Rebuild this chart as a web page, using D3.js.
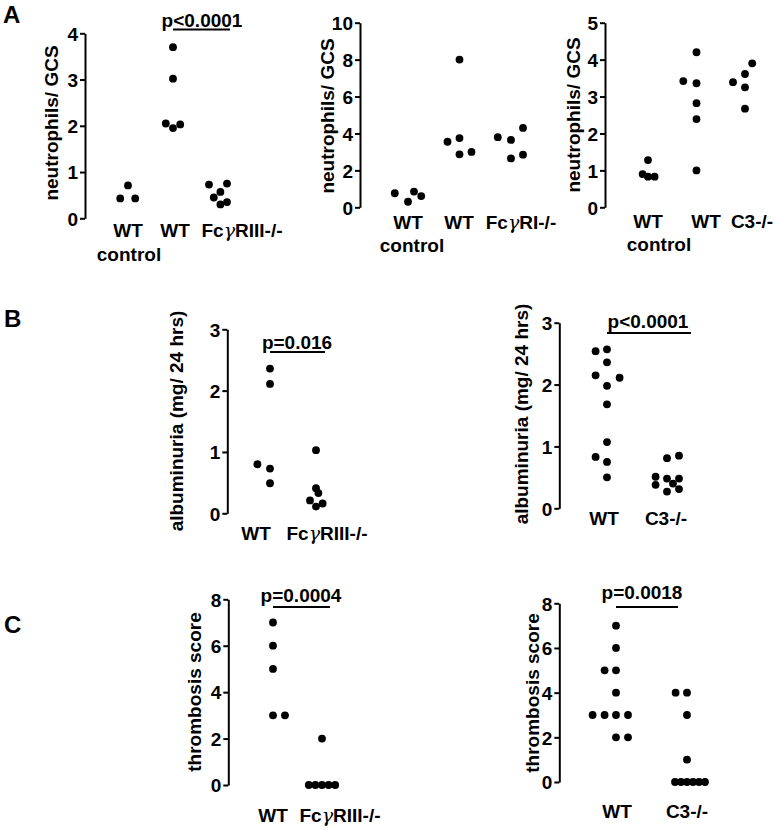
<!DOCTYPE html>
<html><head><meta charset="utf-8">
<script src="https://cdn.jsdelivr.net/npm/d3@7"></script>
<style>
body{margin:0;background:#fff}
svg{display:block}
text{font-family:"Liberation Sans",Arial,Helvetica,sans-serif;font-weight:bold;fill:#000}
</style>
</head><body>
<svg id="chart" width="779" height="830"></svg>
<script>
// ---------------- DATA ----------------
// Panel A1
const a1Categories = ["WT\ncontrol", "WT", "FcγRIII-/-"];
const a1Values = [[0.71, 0.43, 0.43], [3.70, 3.02, 2.05, 1.95, 2.03], [0.73, 0.75, 0.57, 0.45, 0.35, 0.30]];
const a1Spread = [[0, -1.3, 1.2], [0, 0, -1.2, 0, 1.2], [-1.5, 1.5, 0.4, -0.7, 1.5, 0.4]];
const a1Ticks = [0, 1, 2, 3, 4];
const a1Title = "neutrophils/ GCS";
const a1P = "p<0.0001";
// Panel A2
const a2Categories = ["WT\ncontrol", "WT", "FcγRI-/-"];
const a2Values = [[0.76, 0.30, 0.85, 0.61], [3.55, 3.75, 8.0, 2.87, 3.0], [3.8, 3.65, 2.65, 4.3, 2.85]];
const a2Spread = [[-2.2, 0, 1, 2.2], [-2, 0, 0, 0, 2], [-2.2, 0, 0, 2, 2]];
const a2Ticks = [0, 2, 4, 6, 8, 10];
const a2Title = "neutrophils/ GCS";
// Panel A3
const a3Categories = ["WT\ncontrol", "WT", "C3-/-"];
const a3Values = [[0.90, 1.28, 0.83, 0.83], [3.42, 4.2, 3.36, 2.82, 2.39, 1.0], [3.39, 3.61, 3.25, 2.67, 3.9]];
const a3Spread = [[-0.9, 0, 0, 1.1], [-2.2, 0, 0, 0, 0, 0], [-2, 0, 0, 0, 1.2]];
const a3Ticks = [0, 1, 2, 3, 4, 5];
const a3Title = "neutrophils/ GCS";
// Panel B1
const b1Categories = ["WT", "FcγRIII-/-"];
const b1Values = [[2.36, 2.11, 0.80, 0.73, 0.49], [1.03, 0.41, 0.33, 0.21, 0.11, 0.16]];
const b1Spread = [[0, 0, -2.1, 0, 0], [0, 0, 0.4, -1, 0, 1.1]];
const b1Ticks = [0, 1, 2, 3];
const b1Title = "albuminuria (mg/ 24 hrs)";
const b1P = "p=0.016";
// Panel B2
const b2Categories = ["WT", "C3-/-"];
const b2Values = [[2.54, 2.57, 2.36, 2.15, 2.11, 1.98, 1.68, 1.07, 0.83, 0.75, 0.50], [0.81, 0.85, 0.51, 0.38, 0.48, 0.40, 0.48, 0.27, 0.31]];
const b2Spread = [[-1.9, 0, 0, -1.9, 2.1, 0, 0, 0, -1.9, 0, 0], [0, 2, -1.9, -1.9, 0, 1, 2, 0, 2]];
const b2Ticks = [0, 1, 2, 3];
const b2Title = "albuminuria (mg/ 24 hrs)";
const b2P = "p<0.0001";
// Panel C1
const c1Categories = ["WT", "FcγRIII-/-"];
const c1Values = [[7, 6, 5, 3, 3], [2, 0, 0, 0, 0, 0]];
const c1Spread = [[0, 0, 0, 0, 2], [0, -2.2, -1.1, 0, 1.1, 2.2]];
const c1Ticks = [0, 2, 4, 6, 8];
const c1Title = "thrombosis score";
const c1P = "p=0.0004";
// Panel C2
const c2Categories = ["WT", "C3-/-"];
const c2Values = [[7, 6, 5, 5, 4, 3, 3, 3, 3, 2, 2], [4, 4, 3, 1, 0, 0, 0, 0, 0, 0]];
const c2Spread = [[0, 0, -1.9, 0, 0, -3.9, -1.9, 0, 2, 0, 2], [-1.9, 0, 0, 0, -2, -1, 0, 1, 2, 3]];
const c2Ticks = [0, 2, 4, 6, 8];
const c2Title = "thrombosis score";
const c2P = "p=0.0018";

const panelLetters = ["A", "B", "C"];

// ---------------- LAYOUT ----------------
const FONT = 19;
const panels = [
  {cats: a1Categories, vals: a1Values, spread: a1Spread, ticks: a1Ticks, title: a1Title,
   axisX: 85, y0: 218.3, y1: 33.3, xRange: [128, 218], labelX: [128, 175, 242], labelY: 237, line2X: 129, line2Y: 261,
   titleX: 58, titleY: 123, p: a1P, pX: 202, pY: 27, lineX2: 230, lineY: 29.5},
  {cats: a2Categories, vals: a2Values, spread: a2Spread, ticks: a2Ticks, title: a2Title,
   axisX: 360, y0: 207.3, y1: 22.7, xRange: [408, 511], labelX: [408, 459, 521], labelY: 229, line2X: 412, line2Y: 252,
   titleX: 334, titleY: 116},
  {cats: a3Categories, vals: a3Values, spread: a3Spread, ticks: a3Ticks, title: a3Title,
   axisX: 605, y0: 207.3, y1: 22.7, xRange: [648, 745], labelX: [648, 706, 752], labelY: 228, line2X: 659, line2Y: 251,
   titleX: 580, titleY: 115},
  {cats: b1Categories, vals: b1Values, spread: b1Spread, ticks: b1Ticks, title: b1Title,
   axisX: 227.3, y0: 513.3, y1: 329.3, xRange: [270, 316], labelX: [256, 327], labelY: 540,
   titleX: 183, titleY: 421, p: b1P, pX: 297, pY: 349, lineX2: 325, lineY: 352},
  {cats: b2Categories, vals: b2Values, spread: b2Spread, ticks: b2Ticks, title: b2Title,
   axisX: 559.3, y0: 508.3, y1: 322.7, xRange: [607, 667], labelX: [604, 666], labelY: 525,
   titleX: 528, titleY: 414, p: b2P, pX: 648, pY: 328, lineX2: 691, lineY: 333},
  {cats: c1Categories, vals: c1Values, spread: c1Spread, ticks: c1Ticks, title: c1Title,
   axisX: 228.3, y0: 785, y1: 599.3, xRange: [273, 322], labelX: [273, 340], labelY: 822,
   titleX: 201, titleY: 692, p: c1P, pX: 301, pY: 602, lineX2: 330, lineY: 607},
  {cats: c2Categories, vals: c2Values, spread: c2Spread, ticks: c2Ticks, title: c2Title,
   axisX: 559.3, y0: 782, y1: 603.3, xRange: [616, 687], labelX: [617, 687], labelY: 818,
   titleX: 539, titleY: 693, p: c2P, pX: 642, pY: 599, lineX2: 678, lineY: 607}
];
const letterPos = [[3, 23], [4, 327], [4, 633]];

const svg = d3.select("#chart");
svg.append("rect").attr("width", 779).attr("height", 830).attr("fill", "#fff");

panelLetters.forEach((L, i) => {
  svg.append("text").attr("x", letterPos[i][0]).attr("y", letterPos[i][1])
    .attr("font-size", 24).text(L);
});

const spreadScale = d3.scaleLinear().domain([0, 1]).range([0, 6]);

// writes a label, rendering the greek gamma in a symbol-like face
function writeLabel(sel, str) {
  const parts = str.split("γ");
  parts.forEach((part, k) => {
    if (k > 0) {
      sel.append("tspan").attr("font-family", "'DejaVu Serif', serif").attr("font-weight", "normal")
        .attr("font-style", "italic").text("γ");
    }
    if (part.length) sel.append("tspan").text(part);
  });
}

panels.forEach(p => {
  const g = svg.append("g");
  const max = d3.max(p.ticks);
  const y = d3.scaleLinear().domain([0, max]).range([p.y0, p.y1]);
  const x = d3.scalePoint().domain(p.cats).range(p.xRange);
  const lx = d3.scaleOrdinal().domain(p.cats).range(p.labelX);

  const ax = g.append("g").attr("transform", `translate(${p.axisX},0)`)
    .call(d3.axisLeft(y).tickValues(p.ticks).tickSize(5).tickSizeOuter(0).tickPadding(2).tickFormat(d3.format("d")));
  ax.attr("font-family", null).attr("font-size", null);
  ax.select(".domain").attr("stroke", "#000").attr("stroke-width", 2);
  ax.selectAll(".tick line").attr("stroke", "#000").attr("stroke-width", 2);
  ax.selectAll(".tick text").attr("font-size", FONT).attr("fill", "#000").attr("dy", "0.36em");

  // dots
  p.cats.forEach((c, i) => {
    g.selectAll(null).data(p.vals[i]).enter().append("circle")
      .attr("cx", (d, j) => x(c) + spreadScale(p.spread[i][j]))
      .attr("cy", d => y(d))
      .attr("r", 3.9)
      .attr("fill", "#000");
  });

  // category labels
  p.cats.forEach((c, i) => {
    const lines = c.split("\n");
    const t = g.append("text").attr("x", lx(c)).attr("y", p.labelY).attr("text-anchor", "middle")
      .attr("font-size", FONT);
    writeLabel(t, lines[0]);
    if (lines.length > 1) {
      g.append("text").attr("x", p.line2X).attr("y", p.line2Y).attr("text-anchor", "middle")
        .attr("font-size", FONT).text(lines[1]);
    }
  });

  // y title
  g.append("text").attr("transform", `translate(${p.titleX},${p.titleY}) rotate(-90)`)
    .attr("text-anchor", "middle").attr("font-size", FONT).text(p.title);

  // p-value annotation
  if (p.p) {
    g.append("text").attr("x", p.pX).attr("y", p.pY).attr("text-anchor", "middle")
      .attr("font-size", FONT).text(p.p);
    g.append("line").attr("x1", x(p.cats[p.cats.length - 2])).attr("x2", p.lineX2)
      .attr("y1", p.lineY).attr("y2", p.lineY).attr("stroke", "#000").attr("stroke-width", 2);
  }
});
</script>
</body></html>
